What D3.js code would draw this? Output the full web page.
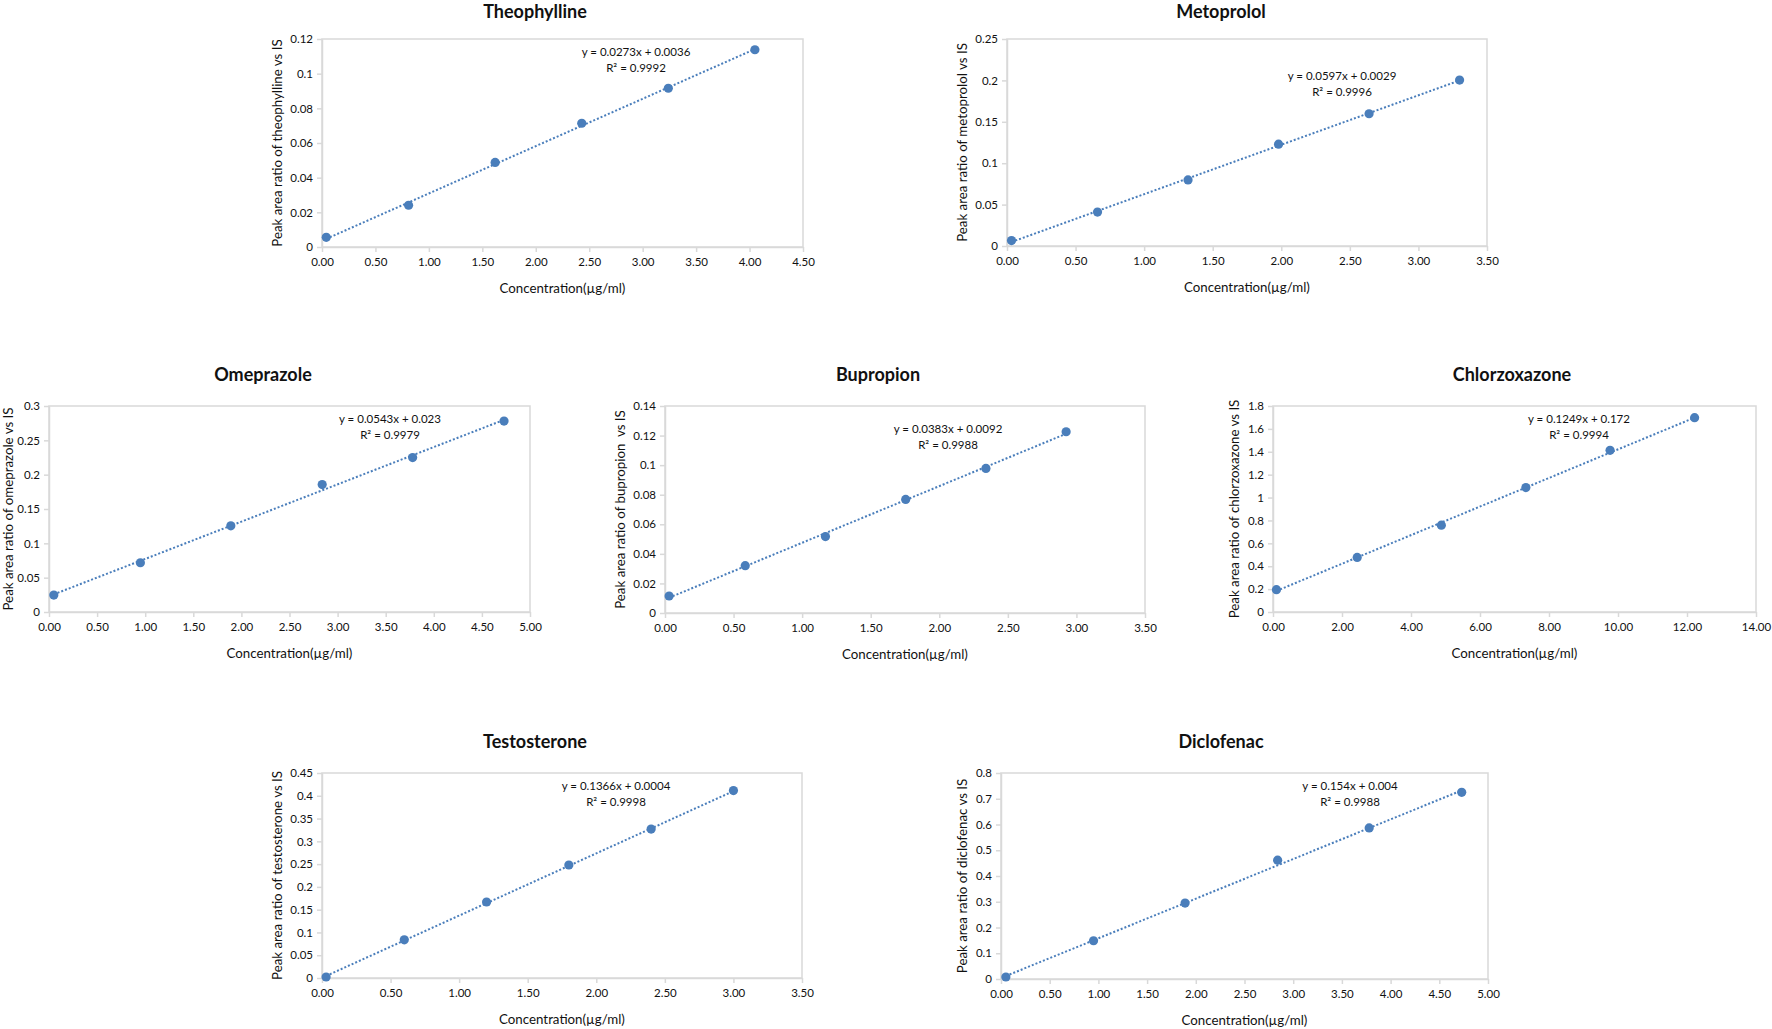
<!DOCTYPE html>
<html>
<head>
<meta charset="utf-8">
<script src="https://cdn.jsdelivr.net/npm/d3@7/dist/d3.min.js"></script>
<style>
  html, body { margin: 0; padding: 0; background: #fff; }
  svg { display: block; }
  text { font-family: "Lato", "Open Sans", sans-serif; fill: #111; }
</style>
</head>
<body>
<script>
// ---------------- DATA ----------------
const drugs = ["Theophylline", "Metoprolol", "Omeprazole", "Bupropion", "Chlorzoxazone", "Testosterone", "Diclofenac"];
const yAxisTitles = [
  "Peak area ratio of theophylline vs IS",
  "Peak area ratio of metoprolol vs IS",
  "Peak area ratio of omeprazole vs IS",
  "Peak area ratio of bupropion  vs IS",
  "Peak area ratio of chlorzoxazone vs IS",
  "Peak area ratio of testosterone vs IS",
  "Peak area ratio of diclofenac vs IS"
];
const xAxisTitle = "Concentration(µg/ml)";

const concentrations = [
  [0.04, 0.81, 1.62, 2.43, 3.24, 4.05],
  [0.033, 0.66, 1.32, 1.98, 2.64, 3.30],
  [0.05, 0.95, 1.89, 2.84, 3.78, 4.73],
  [0.03, 0.585, 1.17, 1.755, 2.34, 2.925],
  [0.1, 2.44, 4.88, 7.33, 9.77, 12.22],
  [0.03, 0.6, 1.2, 1.8, 2.4, 3.0],
  [0.05, 0.95, 1.89, 2.84, 3.78, 4.73]
];
const peakRatios = [
  [0.0056, 0.0241, 0.0488, 0.0714, 0.0916, 0.1138],
  [0.0065, 0.041, 0.0798, 0.123, 0.1597, 0.2004],
  [0.0247, 0.0717, 0.1255, 0.1856, 0.2249, 0.278],
  [0.0115, 0.032, 0.0517, 0.0768, 0.0978, 0.1226],
  [0.195, 0.477, 0.759, 1.0875, 1.413, 1.698],
  [0.0022, 0.0838, 0.1668, 0.248, 0.327, 0.4115],
  [0.0078, 0.1486, 0.2947, 0.4614, 0.5867, 0.725]
];
const slopes = [0.0273, 0.0597, 0.0543, 0.0383, 0.1249, 0.1366, 0.154];
const intercepts = [0.0036, 0.0029, 0.023, 0.0092, 0.172, 0.0004, 0.004];
const equationLabels = [
  "y = 0.0273x + 0.0036",
  "y = 0.0597x + 0.0029",
  "y = 0.0543x + 0.023",
  "y = 0.0383x + 0.0092",
  "y = 0.1249x + 0.172",
  "y = 0.1366x + 0.0004",
  "y = 0.154x + 0.004"
];
const r2Labels = ["R² = 0.9992", "R² = 0.9996", "R² = 0.9979", "R² = 0.9988", "R² = 0.9994", "R² = 0.9998", "R² = 0.9988"];

const xTicks = [
  [0, 0.5, 1, 1.5, 2, 2.5, 3, 3.5, 4, 4.5],
  [0, 0.5, 1, 1.5, 2, 2.5, 3, 3.5],
  [0, 0.5, 1, 1.5, 2, 2.5, 3, 3.5, 4, 4.5, 5],
  [0, 0.5, 1, 1.5, 2, 2.5, 3, 3.5],
  [0, 2, 4, 6, 8, 10, 12, 14],
  [0, 0.5, 1, 1.5, 2, 2.5, 3, 3.5],
  [0, 0.5, 1, 1.5, 2, 2.5, 3, 3.5, 4, 4.5, 5]
];
const yTicks = [
  [0, 0.02, 0.04, 0.06, 0.08, 0.1, 0.12],
  [0, 0.05, 0.1, 0.15, 0.2, 0.25],
  [0, 0.05, 0.1, 0.15, 0.2, 0.25, 0.3],
  [0, 0.02, 0.04, 0.06, 0.08, 0.1, 0.12, 0.14],
  [0, 0.2, 0.4, 0.6, 0.8, 1, 1.2, 1.4, 1.6, 1.8],
  [0, 0.05, 0.1, 0.15, 0.2, 0.25, 0.3, 0.35, 0.4, 0.45],
  [0, 0.1, 0.2, 0.3, 0.4, 0.5, 0.6, 0.7, 0.8]
];

// ---------------- LAYOUT (pixels) ----------------
const layout = [
  { l: 322, r: 803, t: 39, b: 247, titleX: 535, eqDX: 314, eqDY: 13 },
  { l: 1007, r: 1487, t: 39, b: 246, titleX: 1221, eqDX: 335, eqDY: 37 },
  { l: 49, r: 530, t: 406, b: 612, titleX: 263, eqDX: 341, eqDY: 13 },
  { l: 665, r: 1145, t: 406, b: 613, titleX: 878, eqDX: 283, eqDY: 23 },
  { l: 1273, r: 1756, t: 406, b: 612, titleX: 1512, eqDX: 306, eqDY: 13 },
  { l: 322, r: 802, t: 773, b: 978, titleX: 535, eqDX: 294, eqDY: 13 },
  { l: 1001, r: 1488, t: 773, b: 979, titleX: 1221, eqDX: 349, eqDY: 13 }
];

const BLUE = "#4a7ebb";
const GRID = "#d9d9d9";
const TICK_FS = 11.5, AXIS_FS = 13.3, TITLE_FS = 18, EQ_FS = 11.5;

const svg = d3.select("body").append("svg")
  .attr("width", 1772).attr("height", 1029);
svg.append("rect").attr("width", 1772).attr("height", 1029).attr("fill", "#fff");

drugs.forEach((name, i) => {
  const L = layout[i];
  const g = svg.append("g");
  const xs = xTicks[i], ys = yTicks[i];
  const x = d3.scaleLinear().domain([0, xs[xs.length - 1]]).range([L.l, L.r]);
  const y = d3.scaleLinear().domain([0, ys[ys.length - 1]]).range([L.b, L.t]);

  // plot border
  g.append("rect")
    .attr("x", L.l).attr("y", L.t)
    .attr("width", L.r - L.l).attr("height", L.b - L.t)
    .attr("fill", "none").attr("stroke", GRID).attr("stroke-width", 1.5);

  // x axis
  const xAxis = g.append("g").attr("transform", `translate(0,${L.b})`)
    .call(d3.axisBottom(x).tickValues(xs).tickSize(5).tickSizeOuter(0).tickPadding(6)
      .tickFormat(d3.format(".2f")));
  xAxis.select(".domain").attr("stroke", GRID).attr("stroke-width", 1.5);
  xAxis.selectAll(".tick line").attr("stroke", GRID).attr("stroke-width", 1.5);
  xAxis.selectAll(".tick text").attr("font-size", TICK_FS).attr("fill", "#111")
    .attr("font-family", "Lato");

  // y axis
  const yAxis = g.append("g").attr("transform", `translate(${L.l},0)`)
    .call(d3.axisLeft(y).tickValues(ys).tickSize(5).tickSizeOuter(0).tickPadding(4)
      .tickFormat(d => String(+d.toFixed(4))));
  yAxis.select(".domain").attr("stroke", GRID).attr("stroke-width", 1.5);
  yAxis.selectAll(".tick line").attr("stroke", GRID).attr("stroke-width", 1.5);
  yAxis.selectAll(".tick text").attr("font-size", TICK_FS).attr("fill", "#111")
    .attr("font-family", "Lato");

  let maxW = 0;
  yAxis.selectAll(".tick text").each(function () { maxW = Math.max(maxW, this.getBBox().width); });

  // title
  g.append("text").attr("x", L.titleX).attr("y", Math.max(18, L.t - 25))
    .attr("text-anchor", "middle").attr("font-size", TITLE_FS).attr("font-weight", "bold")
    .attr("fill", "#000").text(name);

  // x axis title
  g.append("text").attr("x", (L.l + L.r) / 2).attr("y", L.b + 46)
    .attr("text-anchor", "middle").attr("font-size", AXIS_FS).text(xAxisTitle);

  // y axis title
  const yc = (L.t + L.b) / 2;
  const yx = Math.max(8, L.l - 9 - maxW - 13);
  g.append("text")
    .attr("transform", `translate(${yx},${yc}) rotate(-90)`)
    .attr("text-anchor", "middle").attr("dy", "0.35em")
    .attr("font-size", AXIS_FS).style("white-space", "pre").text(yAxisTitles[i]);

  // trendline
  const cx = concentrations[i];
  const x0 = d3.min(cx), x1 = d3.max(cx);
  const trend = [x0, x1].map(v => [v, slopes[i] * v + intercepts[i]]);
  g.append("path")
    .attr("d", d3.line().x(d => x(d[0])).y(d => y(d[1]))(trend))
    .attr("fill", "none").attr("stroke", BLUE).attr("stroke-width", 2)
    .attr("stroke-dasharray", "2,2");

  // markers
  g.selectAll("circle.pt").data(cx.map((v, k) => [v, peakRatios[i][k]]))
    .enter().append("circle").attr("class", "pt")
    .attr("cx", d => x(d[0])).attr("cy", d => y(d[1])).attr("r", 4.6)
    .attr("fill", BLUE);

  // equation label
  const ex = L.l + L.eqDX, ey = L.t + L.eqDY;
  g.append("text").attr("x", ex).attr("y", ey).attr("dy", "0.35em")
    .attr("text-anchor", "middle").attr("font-size", EQ_FS).text(equationLabels[i]);
  g.append("text").attr("x", ex).attr("y", ey + 15.5).attr("dy", "0.35em")
    .attr("text-anchor", "middle").attr("font-size", EQ_FS).text(r2Labels[i]);
});
</script>
</body>
</html>
